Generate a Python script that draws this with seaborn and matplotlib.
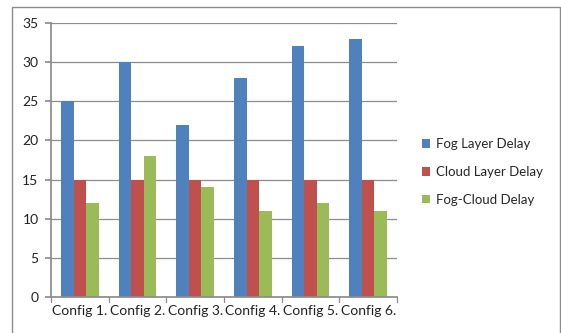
import matplotlib
matplotlib.use("Agg")
import matplotlib.pyplot as plt
import seaborn as sns
import pandas as pd
from matplotlib.patches import Rectangle

configs = ["Config 1.", "Config 2.", "Config 3.", "Config 4.", "Config 5.", "Config 6."]
fog_layer = [25, 30, 22, 28, 32, 33]
cloud_layer = [15, 15, 15, 15, 15, 15]
fog_cloud = [12, 18, 14, 11, 12, 11]
series_names = ["Fog Layer Delay", "Cloud Layer Delay", "Fog-Cloud Delay"]
colors = ["#4F81BD", "#C0504D", "#9BBB59"]
y_ticks = [0, 5, 10, 15, 20, 25, 30, 35]

rows = []
for name, vals in zip(series_names, [fog_layer, cloud_layer, fog_cloud]):
    for c, v in zip(configs, vals):
        rows.append({"config": c, "series": name, "delay": v})
df = pd.DataFrame(rows)

sns.set_theme(style="white")
plt.rcParams["font.family"] = ["Lato", "DejaVu Sans"]

fig = plt.figure(figsize=(5.61, 3.33), dpi=100)
ax = fig.add_axes([51 / 561, 36 / 333, 346 / 561, 274 / 333])

sns.barplot(data=df, x="config", y="delay", hue="series", palette=colors,
            width=0.65, saturation=1, linewidth=0, ax=ax, legend=True)

ax.set_ylim(0, 35)
ax.set_yticks(y_ticks)
ax.set_xlim(-0.5, len(configs) - 0.5)
ax.set_xlabel("")
ax.set_ylabel("")
ax.yaxis.grid(True, color="#8c8c8c", linewidth=0.9)
ax.set_axisbelow(True)
for s in ["top", "right"]:
    ax.spines[s].set_visible(False)
ax.spines["left"].set_color("#8c8c8c")
ax.spines["bottom"].set_color("#8c8c8c")
ax.tick_params(axis="y", length=4, color="#8c8c8c", direction="out", left=True,
               labelsize=10, labelcolor="#222222", pad=5)
ax.tick_params(axis="x", length=0, labelsize=10, labelcolor="#222222", pad=6)
# category boundary ticks below the axis
for b in range(len(configs) + 1):
    ax.plot([b - 0.5, b - 0.5], [0, -0.6], color="#8c8c8c", lw=0.9, clip_on=False)

handles, labels = ax.get_legend_handles_labels()
ax.legend(handles, labels, loc="center left",
          bbox_to_anchor=(410 / 561, 1 - 172 / 333), bbox_transform=fig.transFigure,
          frameon=False, fontsize=9.5, handlelength=0.6, handleheight=0.6,
          handletextpad=0.5, labelspacing=1.2)

fig.patches.append(Rectangle((12 / 561, -0.05), 548 / 561, 1 - 7 / 333 + 0.05,
                             transform=fig.transFigure, fill=False,
                             edgecolor="#8c8c8c", linewidth=1.0))

fig.savefig("out.png", dpi=100)
